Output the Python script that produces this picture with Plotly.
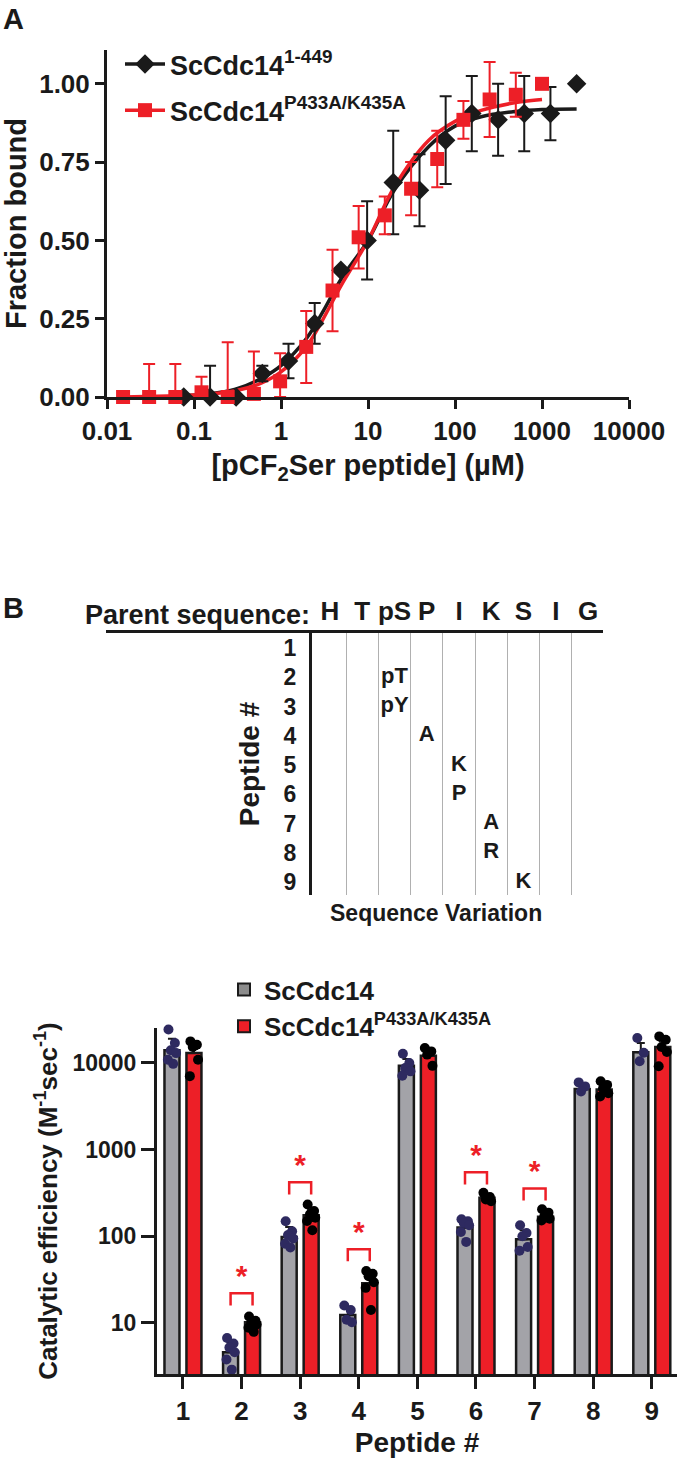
import plotly.graph_objects as go

W, H = 677, 1464
def px(x): return x / W
def py(y): return 1 - y / H

FONT = "Liberation Sans, Arial, sans-serif"
BLACK = "#1a1a1a"
RED = "#ed1f27"
GRAY = "#a3a3a8"
LEG_GRAY = "#8c8c8c"
NAVY = "#2e2a60"

# ---------------- Panel A data ----------------
conc_wt = [0.0763, 0.153, 0.305, 0.61, 1.22, 2.44, 4.88, 9.77, 19.5, 39.1, 78.1, 156, 313, 625, 1250, 2500]
bound_wt = [0.0, 0.0, 0.0, 0.075, 0.115, 0.235, 0.405, 0.50, 0.685, 0.66, 0.82, 0.905, 0.885, 0.905, 0.905, 1.00]
sd_wt = [0.0, 0.10, 0.0, 0.025, 0.055, 0.065, 0.0, 0.125, 0.165, 0.115, 0.14, 0.12, 0.115, 0.12, 0.085, 0.0]

conc_mut = [0.0153, 0.0305, 0.061, 0.122, 0.244, 0.488, 0.977, 1.95, 3.91, 7.81, 15.6, 31.3, 62.5, 125, 250, 500, 1000]
bound_mut = [0.0, 0.0, 0.0, 0.015, 0.0, 0.01, 0.05, 0.16, 0.34, 0.51, 0.58, 0.665, 0.76, 0.885, 0.95, 0.965, 1.00]
sd_mut = [0.0, 0.105, 0.105, 0.05, 0.175, 0.135, 0.09, 0.115, 0.13, 0.10, 0.06, 0.085, 0.09, 0.06, 0.12, 0.07, 0.0]

fit_wt_x = [0.0763, 0.15, 0.3, 0.6, 1.0, 2.0, 3.0, 5.0, 10, 20, 50, 100, 200, 500, 1000, 2500]
fit_wt_y = [0.005, 0.01, 0.025, 0.06, 0.10, 0.19, 0.27, 0.38, 0.50, 0.66, 0.80, 0.865, 0.895, 0.912, 0.918, 0.92]
fit_mut_x = [0.0153, 0.05, 0.1, 0.3, 0.6, 1.0, 2.0, 5.0, 10, 20, 50, 100, 200, 500, 1000]
fit_mut_y = [0.0, 0.003, 0.006, 0.02, 0.045, 0.08, 0.165, 0.36, 0.50, 0.67, 0.82, 0.88, 0.915, 0.94, 0.95]

a_xticks = [0.01, 0.1, 1, 10, 100, 1000, 10000]
a_xticklabels = ["0.01", "0.1", "1", "10", "100", "1000", "10000"]
a_yticks = [0, 0.25, 0.5, 0.75, 1.0]
a_yticklabels = ["0.00", "0.25", "0.50", "0.75", "1.00"]

# ---------------- Panel B table data ----------------
parent_seq = ["H", "T", "pS", "P", "I", "K", "S", "I", "G"]
peptide_rows = [1, 2, 3, 4, 5, 6, 7, 8, 9]
var_row = [2, 3, 4, 5, 6, 7, 8, 9]
var_col = [2, 2, 3, 4, 4, 5, 5, 6]
var_text = ["pT", "pY", "A", "K", "P", "A", "R", "K"]

# ---------------- Panel B bar data ----------------
peptides = [1, 2, 3, 4, 5, 6, 7, 8, 9]
wt_mean = [13900, 4.6, 98, 12.4, 9230, 126, 92, 4960, 13200]
wt_err = [5000, 1.3, 30, 2.6, 1800, 15, 25, 740, 3700]
mut_mean = [12900, 10.2, 175, 28.8, 12040, 278, 168, 4900, 15200]
mut_err = [1500, 0.8, 25, 6, 1200, 20, 12, 400, 2500]
wt_reps = [
    [24100, 16900, 13900, 12900, 10800, 9700],
    [6.7, 5.8, 5.2, 4.6, 3.8, 2.9],
    [149, 114, 103, 94, 82, 74],
    [15.9, 14.1, 10.9, 10.2],
    [12700, 9900, 8700, 7950, 7070],
    [157, 149, 142, 134, 112, 86],
    [134, 109, 100, 75, 68],
    [5930, 5330, 4660],
    [19300, 13000, 10400],
]
mut_reps = [
    [17600, 16100, 15200, 10800, 7000],
    [11.9, 10.6, 10.2, 9.6, 8.8, 7.9],
    [232, 195, 179, 163, 150, 117],
    [39.7, 37, 34.6, 29.5, 25.4, 14.1],
    [14800, 13500, 12400, 9200],
    [316, 283, 265, 253],
    [205, 187, 171, 159, 152],
    [6100, 5550, 5050, 4450, 4070],
    [20100, 18400, 15200, 13300, 9100],
]
sig_peptides = [2, 3, 4, 6, 7]
sig_top = [22, 418, 71, 546, 356]
b_yticks = [10, 100, 1000, 10000]

# ---------------- build figure ----------------
fig = go.Figure()

# Panel A fits
fig.add_trace(go.Scatter(x=fit_wt_x, y=fit_wt_y, mode="lines", line=dict(color=BLACK, width=3.5, shape="spline"),
                         showlegend=False, xaxis="x", yaxis="y", hoverinfo="skip"))
fig.add_trace(go.Scatter(x=fit_mut_x, y=fit_mut_y, mode="lines", line=dict(color=RED, width=3.5, shape="spline"),
                         showlegend=False, xaxis="x", yaxis="y", hoverinfo="skip"))

def err_minus(vals, errs):
    return [min(v, e) for v, e in zip(vals, errs)]

fig.add_trace(go.Scatter(x=conc_wt, y=bound_wt, mode="markers",
                         marker=dict(symbol="diamond", size=15, color=BLACK),
                         error_y=dict(type="data", array=sd_wt, arrayminus=err_minus(bound_wt, sd_wt),
                                      symmetric=False, color=BLACK, thickness=2, width=6),
                         cliponaxis=False, showlegend=False, xaxis="x", yaxis="y"))
fig.add_trace(go.Scatter(x=conc_mut, y=bound_mut, mode="markers",
                         marker=dict(symbol="square", size=14, color=RED),
                         error_y=dict(type="data", array=sd_mut, arrayminus=err_minus(bound_mut, sd_mut),
                                      symmetric=False, color=RED, thickness=2, width=6),
                         cliponaxis=False, showlegend=False, xaxis="x", yaxis="y"))
# legend entries panel A
fig.add_trace(go.Scatter(x=[None], y=[None], mode="lines+markers", name="ScCdc14<sup>1-449</sup>",
                         line=dict(color=BLACK, width=3.5), marker=dict(symbol="diamond", size=15, color=BLACK),
                         legend="legend", legendgroup="a1", xaxis="x", yaxis="y"))
fig.add_trace(go.Scatter(x=[None], y=[None], mode="lines+markers", name="ScCdc14<sup>P433A/K435A</sup>",
                         line=dict(color=RED, width=3.5), marker=dict(symbol="square", size=14, color=RED),
                         legend="legend", legendgroup="a2", xaxis="x", yaxis="y"))

# Panel B table
fig.add_trace(go.Scatter(x=var_col, y=var_row, mode="text", text=var_text,
                         textfont=dict(family=FONT, size=22, color=BLACK, weight="bold"),
                         showlegend=False, xaxis="x2", yaxis="y2", hoverinfo="skip"))

# Panel B bars
BW = 0.256
OFF = 0.1875
fig.add_trace(go.Bar(x=peptides, y=wt_mean, width=BW, offset=-OFF - BW / 2,
                     marker=dict(color=GRAY, line=dict(color=BLACK, width=2.5)),
                     error_y=dict(type="data", array=wt_err, arrayminus=[0] * len(wt_err), symmetric=False,
                                  color=BLACK, thickness=2, width=4),
                     showlegend=False, xaxis="x3", yaxis="y3"))
fig.add_trace(go.Bar(x=peptides, y=mut_mean, width=BW, offset=OFF - BW / 2,
                     marker=dict(color=RED, line=dict(color=BLACK, width=2.5)),
                     error_y=dict(type="data", array=mut_err, arrayminus=[0] * len(mut_err), symmetric=False,
                                  color=BLACK, thickness=2, width=4),
                     showlegend=False, xaxis="x3", yaxis="y3"))

jitter = [-0.06, 0.05, -0.02, 0.07, -0.07, 0.02]
def dots(reps, center_off):
    xs, ys = [], []
    for p, vals in zip(peptides, reps):
        for k, v in enumerate(vals):
            xs.append(p + center_off + jitter[k % len(jitter)])
            ys.append(v)
    return xs, ys

wx, wy = dots(wt_reps, -OFF)
mx, my = dots(mut_reps, OFF)
fig.add_trace(go.Scatter(x=wx, y=wy, mode="markers", marker=dict(size=10, color=NAVY),
                         showlegend=False, xaxis="x3", yaxis="y3", cliponaxis=False))
fig.add_trace(go.Scatter(x=mx, y=my, mode="markers", marker=dict(size=10, color="black"),
                         showlegend=False, xaxis="x3", yaxis="y3", cliponaxis=False))

# significance brackets
LEG = 1.38
bx, by = [], []
for p, t in zip(sig_peptides, sig_top):
    bx += [p - OFF, p - OFF, p + OFF, p + OFF, None]
    by += [t / LEG, t, t, t / LEG, None]
fig.add_trace(go.Scatter(x=bx, y=by, mode="lines", line=dict(color=RED, width=2.5),
                         showlegend=False, xaxis="x3", yaxis="y3", hoverinfo="skip"))
fig.add_trace(go.Scatter(x=sig_peptides, y=sig_top, mode="text", text=["*"] * len(sig_peptides),
                         textposition="top center",
                         textfont=dict(family=FONT, size=30, color=RED, weight="bold"),
                         showlegend=False, xaxis="x3", yaxis="y3", hoverinfo="skip"))

# legend entries panel B
fig.add_trace(go.Bar(x=[None], y=[None], name="ScCdc14", marker=dict(color=LEG_GRAY, line=dict(color=BLACK, width=2)),
                     legend="legend2", legendgroup="b1", xaxis="x3", yaxis="y3"))
fig.add_trace(go.Bar(x=[None], y=[None], name="ScCdc14<sup>P433A/K435A</sup>",
                     marker=dict(color=RED, line=dict(color=BLACK, width=2)),
                     legend="legend2", legendgroup="b2", xaxis="x3", yaxis="y3"))

axis_common = dict(showline=True, linecolor=BLACK, linewidth=3, showgrid=False, zeroline=False,
                   automargin=False,
                   ticks="outside", tickwidth=3, ticklen=9, tickcolor=BLACK,
                   tickfont=dict(family=FONT, size=26, color=BLACK, weight="bold"))

fig.update_layout(
    width=W, height=H, margin=dict(l=0, r=0, t=0, b=0, autoexpand=False),
    paper_bgcolor="white", plot_bgcolor="white",
    barmode="overlay",
    font=dict(family=FONT, color=BLACK),
    xaxis=dict(axis_common, type="log", range=[-2, 4], domain=[px(107), px(629)], anchor="y",
               tickvals=a_xticks, ticktext=a_xticklabels,
               title=dict(text="[pCF<sub>2</sub>Ser peptide] (µM)", standoff=10,
                          font=dict(family=FONT, size=29, color=BLACK, weight="bold"))),
    yaxis=dict(axis_common, range=[0, 1.108], domain=[py(397), py(50)], anchor="x",
               tickvals=a_yticks, ticktext=a_yticklabels,
               title=dict(text="Fraction bound", standoff=8,
                          font=dict(family=FONT, size=29, color=BLACK, weight="bold"))),
    xaxis2=dict(range=[-6.946, 8.465], domain=[px(106), px(603)], anchor="y2", side="top",
                automargin=False,
                showline=True, linecolor=BLACK, linewidth=3, showgrid=False, zeroline=False, ticks="",
                tickvals=list(range(len(parent_seq))), ticktext=parent_seq,
                tickfont=dict(family=FONT, size=26, color=BLACK, weight="bold"),
                minor=dict(tickvals=[i + 0.5 for i in range(len(parent_seq) - 1)], showgrid=True,
                           gridcolor="#b0b0b0", gridwidth=1, ticks="")),
    yaxis2=dict(range=[9.444, 0.487], domain=[py(895), py(633)], anchor="free", position=px(310),
                automargin=False,
                showline=True, linecolor=BLACK, linewidth=3, showgrid=False, zeroline=False, ticks="",
                tickvals=peptide_rows, ticktext=[str(r) for r in peptide_rows],
                ticklabelstandoff=8,
                tickfont=dict(family=FONT, size=23, color=BLACK, weight="bold"),
                title=dict(text="Peptide #", standoff=14,
                           font=dict(family=FONT, size=28, color=BLACK, weight="bold"))),
    xaxis3=dict(axis_common, range=[0.557, 9.43], domain=[px(157), 1], anchor="y3", ticklen=12,
                tickvals=peptides, ticktext=[str(p) for p in peptides],
                title=dict(text="Peptide #", standoff=8,
                           font=dict(family=FONT, size=28, color=BLACK, weight="bold"))),
    yaxis3=dict(axis_common, type="log", range=[0.412, 4.40], domain=[py(1374), py(1028)], anchor="x3",
                ticklen=13,
                tickvals=b_yticks, ticktext=[str(v) for v in b_yticks],
                tickfont=dict(family=FONT, size=23, color=BLACK, weight="bold"),
                title=dict(text="Catalytic efficiency (M<sup>-1</sup>sec<sup>-1</sup>)", standoff=8,
                           font=dict(family=FONT, size=26, color=BLACK, weight="bold"))),
    legend=dict(x=px(120), y=py(40), xanchor="left", yanchor="top", bgcolor="rgba(0,0,0,0)",
                font=dict(family=FONT, size=27, color=BLACK, weight="bold"), tracegroupgap=8,
                itemwidth=40),
    legend2=dict(x=px(224), y=py(966), xanchor="left", yanchor="top", bgcolor="rgba(0,0,0,0)",
                 font=dict(family=FONT, size=26, color=BLACK, weight="bold"), tracegroupgap=0),
    annotations=[
        dict(text="A", x=px(1), y=py(1), xref="paper", yref="paper", xanchor="left", yanchor="top",
             showarrow=False, font=dict(family=FONT, size=29, color=BLACK, weight="bold")),
        dict(text="B", x=px(1), y=py(590), xref="paper", yref="paper", xanchor="left", yanchor="top",
             showarrow=False, font=dict(family=FONT, size=29, color=BLACK, weight="bold")),
        dict(text="Parent sequence:", x=px(312), y=py(615), xref="paper", yref="paper", xanchor="right",
             yanchor="middle", showarrow=False, font=dict(family=FONT, size=27, color=BLACK, weight="bold")),
        dict(text="Sequence Variation", x=px(436), y=py(913), xref="paper", yref="paper", xanchor="center",
             yanchor="middle", showarrow=False, font=dict(family=FONT, size=23, color=BLACK, weight="bold")),
    ],
)

fig.write_html("out.html")
